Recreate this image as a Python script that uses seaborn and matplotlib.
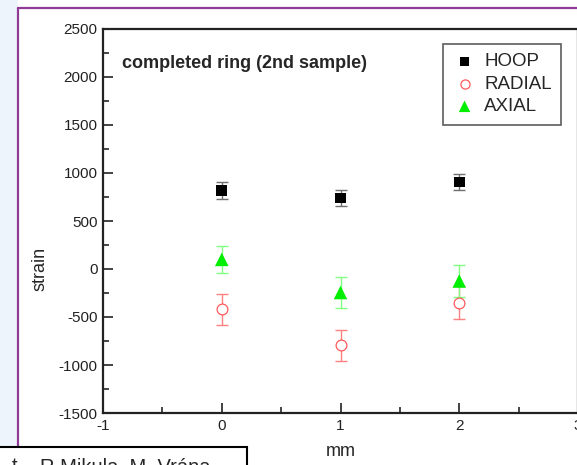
import matplotlib
matplotlib.use("Agg")
import matplotlib.pyplot as plt
import seaborn as sns
import pandas as pd
from matplotlib.patches import Rectangle
from matplotlib.ticker import MultipleLocator

positions = [0, 1, 2]
hoop = [820, 740, 905]
hoop_err = [90, 80, 80]
radial = [-420, -795, -350]
radial_err = [160, 160, 175]
axial = [100, -245, -125]
axial_err = [140, 165, 170]
series = ["HOOP", "RADIAL", "AXIAL"]

rows = []
for name, vals, errs in zip(series, [hoop, radial, axial], [hoop_err, radial_err, axial_err]):
    for p, v, e in zip(positions, vals, errs):
        rows.append({"mm": p, "strain": v, "err": e, "series": name})
df = pd.DataFrame(rows)

sns.set_style("white")
plt.rcParams['font.family'] = ['Liberation Sans', 'DejaVu Sans']
plt.rcParams['axes.unicode_minus'] = False

W, H = 577, 465
fig = plt.figure(figsize=(W / 100, H / 100), dpi=100)
fig.patch.set_facecolor("white")

# slide decorations
fig.patches.append(Rectangle((0, 0), 18 / W, 1, transform=fig.transFigure,
                             facecolor="#eef4fb", edgecolor="none", zorder=0))
fig.add_artist(plt.Line2D([18 / W, 18 / W], [1 - 447 / H, 1 - 8 / H], transform=fig.transFigure,
                          color="#8e3a96", lw=1.6))
fig.add_artist(plt.Line2D([18 / W, 1], [1 - 8 / H, 1 - 8 / H], transform=fig.transFigure,
                          color="#8e3a96", lw=1.6))

ax = fig.add_axes([103 / W, 52 / H, 475 / W, 384 / H])
ax.set_facecolor("white")

colors = {"HOOP": "black", "RADIAL": "#ff4040", "AXIAL": "#00ee00"}
ecolors = {"HOOP": "#707070", "RADIAL": "#ff8080", "AXIAL": "#80ff80"}
markers = {"HOOP": "s", "RADIAL": "o", "AXIAL": "^"}

for name in series:
    sub = df[df.series == name]
    ax.errorbar(sub["mm"], sub["strain"], yerr=sub["err"], fmt="none",
                ecolor=ecolors[name], elinewidth=1.0, capsize=4, capthick=1.0, zorder=2)

for name in series:
    sub = df[df.series == name]
    if name == "RADIAL":
        sns.scatterplot(data=sub, x="mm", y="strain", ax=ax, marker="o", s=60,
                        facecolor="white", edgecolor="#ff5a5a", linewidth=0.9,
                        label=name, zorder=3)
    else:
        sns.scatterplot(data=sub, x="mm", y="strain", ax=ax, marker=markers[name],
                        s=60 if name == "HOOP" else 95, color=colors[name],
                        edgecolor="none", label=name, zorder=3)

ax.set_xlim(-1, 3)
ax.set_ylim(-1500, 2500)
ax.xaxis.set_major_locator(MultipleLocator(1))
ax.xaxis.set_minor_locator(MultipleLocator(0.5))
ax.yaxis.set_major_locator(MultipleLocator(500))
ax.yaxis.set_minor_locator(MultipleLocator(250))
ax.tick_params(which="major", direction="in", length=7, width=1.2, labelsize=11,
               colors="#222222", pad=4)
ax.tick_params(which="minor", direction="in", length=4, width=1.2)
ax.tick_params(which="both", top=False, right=False, bottom=True, left=True)
for side in ["left", "bottom", "top", "right"]:
    ax.spines[side].set_linewidth(1.6)
    ax.spines[side].set_color("#222222")

ax.set_xlabel("")
ax.set_ylabel("")
fig.text(341 / W, 1 - 451 / H, "mm", ha="center", va="center", fontsize=13)
fig.text(40 / W, 1 - 269 / H, "strain", ha="center", va="center", rotation=90, fontsize=13)

ax.text(0.04, 0.91, "completed ring (2nd sample)", transform=ax.transAxes,
        fontsize=13, fontweight="bold", ha="left", va="center")

leg = ax.legend(loc="upper left", bbox_to_anchor=((443 - 103) / 475, (413 - 44) / 384),
                fontsize=13.5, frameon=True, fancybox=False, handletextpad=0.4,
                borderpad=0.5, labelspacing=0.28, handlelength=1.3, markerscale=0.85,
                borderaxespad=0)
leg.get_frame().set_edgecolor("#333333")
leg.get_frame().set_linewidth(1.2)

# text box at bottom
fig.patches.append(Rectangle((-5 / W, -20 / H), 252 / W, (18 + 20) / H, transform=fig.transFigure,
                             facecolor="white", edgecolor="black", lw=1.5, zorder=5))
fig.text(12 / W, 1 - 472 / H, "t.", fontsize=14.5, ha="left", va="baseline", zorder=6)
fig.text(40 / W, 1 - 472 / H, "R.Mikula, M. Vrána", fontsize=14.5, ha="left", va="baseline",
         zorder=6)

fig.savefig("out.png", dpi=100)
